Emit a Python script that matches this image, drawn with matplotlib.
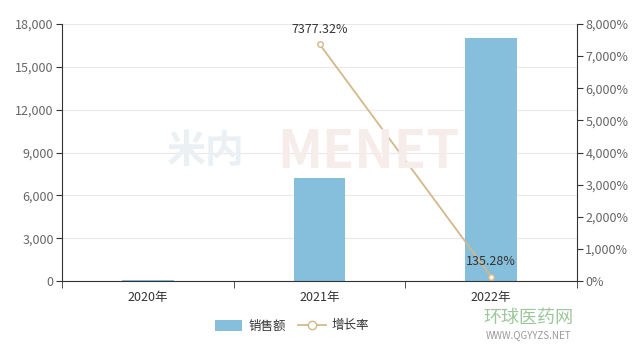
import matplotlib
matplotlib.use("Agg")
import matplotlib.pyplot as plt
from matplotlib.lines import Line2D
from matplotlib.patches import Patch
import numpy as np

plt.rcParams['font.family'] = ['Noto Sans CJK SC', 'DejaVu Sans']

categories = ['2020年', '2021年', '2022年']
sales = [97, 7225, 17000]
growth = [None, 7377.32, 135.28]
growth_labels = ['', '7377.32%', '135.28%']
left_ticks = [0, 3000, 6000, 9000, 12000, 15000, 18000]
right_ticks = [0, 1000, 2000, 3000, 4000, 5000, 6000, 7000, 8000]

bar_color = '#86bfdb'
line_color = '#d2b98a'
axis_color = '#333333'
text_color = '#666666'

fig = plt.figure(figsize=(6.44, 3.47), dpi=100)

# watermarks (behind the chart)
fig.text(205/644, 1 - 152/347, '米内', fontsize=28, color='#eaf0f4', ha='center', va='center',
         fontweight='bold', zorder=0)
fig.text(368/644, 1 - 152/347, 'MENET', fontsize=38, color='#f6ecea', ha='center', va='center',
         fontweight='bold', zorder=0)

ax = fig.add_axes([62/644, 66/347, 515/644, 257/347])
ax.patch.set_alpha(0)
x = np.arange(len(categories))

ax.bar(x, sales, width=0.3, color=bar_color, zorder=2)
ax.set_xlim(-0.5, 2.5)
ax.set_ylim(0, 18000)
ax.set_yticks(left_ticks)
ax.set_yticklabels([f'{v:,}' for v in left_ticks])
ax.set_xticks(x)
ax.set_xticklabels(categories)
ax.set_xticks([-0.5, 0.5, 1.5, 2.5], minor=True)
ax.tick_params(axis='x', which='major', length=0, colors=axis_color, labelcolor='#333333', labelsize=9, pad=7)
ax.tick_params(axis='x', which='minor', length=5, color=axis_color)
ax.tick_params(axis='y', length=4, color=axis_color, labelcolor=text_color, labelsize=9, pad=2)
ax.grid(axis='y', color='#e8e8e8', linewidth=0.8, zorder=0)
for s in ['top', 'right']:
    ax.spines[s].set_visible(False)
ax.spines['left'].set_color(axis_color)
ax.spines['bottom'].set_color(axis_color)

ax2 = ax.twinx()
ax2.set_ylim(0, 8000)
ax2.set_yticks(right_ticks)
ax2.set_yticklabels([f'{v:,}%' for v in right_ticks])
ax2.tick_params(axis='y', length=4, color=axis_color, labelcolor=text_color, labelsize=9, pad=2)
for s in ['top', 'left', 'bottom']:
    ax2.spines[s].set_visible(False)
ax2.spines['right'].set_color(axis_color)

gx = [i for i, g in enumerate(growth) if g is not None]
gy = [g for g in growth if g is not None]
ax2.plot(gx, gy, color=line_color, linewidth=1.3, marker='o', markersize=4,
         markerfacecolor='white', markeredgecolor=line_color, zorder=3)
for i, g in enumerate(growth):
    if g is not None:
        ax2.annotate(growth_labels[i], (i, g), xytext=(0, 6), textcoords='offset points',
                     ha='center', va='bottom', fontsize=9, color='#333333')

fig.text(0.82, 0.085, '环球医药网', fontsize=13, color='#9cc79a', ha='center', va='center')
fig.text(0.82, 0.035, 'WWW.QGYYZS.NET', fontsize=7, color='#9a9a9a', ha='center', va='center')

handles = [Patch(facecolor=bar_color, edgecolor='none'),
           Line2D([0], [0], color=line_color, marker='o', markersize=6,
                  markerfacecolor='white', markeredgecolor=line_color, linewidth=1.3)]
fig.legend(handles, ['销售额', '增长率'], loc='center', bbox_to_anchor=(292/644, 1 - 326/347),
           ncol=2, frameon=False, fontsize=9, handlelength=2.2, handleheight=1.0,
           columnspacing=1.0, handletextpad=0.5, labelcolor='#333333')

fig.savefig('out.png', dpi=100)
